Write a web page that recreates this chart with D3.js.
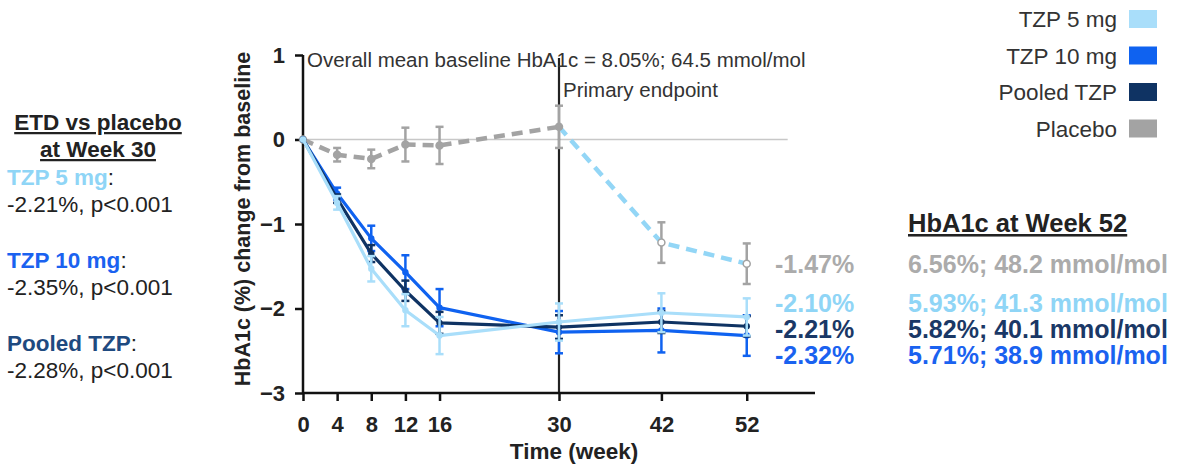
<!DOCTYPE html>
<html>
<head>
<meta charset="utf-8">
<script src="https://cdn.jsdelivr.net/npm/d3@7"></script>
<style>
  body { margin: 0; background: #fff; }
  svg { font-family: "Liberation Sans", Arial, sans-serif; }
</style>
</head>
<body>
<svg id="chart" width="1186" height="466"></svg>
<script>
// values
var weeks = [0, 4, 8, 12, 16, 30, 42, 52];
var xTicks = [0, 4, 8, 12, 16, 30, 42, 52];
var yTicks = [1, 0, -1, -2, -3];

var tzp5 = [0, -0.75, -1.53, -2.02, -2.32, -2.16, -2.05, -2.10];
var tzp5Err = [0, 0.08, 0.15, 0.19, 0.22, 0.22, 0.23, 0.22];
var tzp10 = [0, -0.64, -1.17, -1.57, -1.99, -2.28, -2.26, -2.32];
var tzp10Err = [0, 0.07, 0.15, 0.2, 0.22, 0.25, 0.26, 0.24];
var pooled = [0, -0.70, -1.35, -1.79, -2.17, -2.22, -2.16, -2.21];
var pooledErr = [0, 0.05, 0.1, 0.12, 0.13, 0.14, 0.13, 0.12];
var placebo = [0, -0.18, -0.23, -0.06, -0.07, 0.15, -1.22, -1.47];
var placeboErr = [0, 0.08, 0.11, 0.2, 0.22, 0.25, 0.24, 0.24];

var legendNames = ["TZP 5 mg", "TZP 10 mg", "Pooled TZP", "Placebo"];
var legendColors = ["#a9defa", "#0f62f0", "#0f3363", "#a3a3a3"];

var endLabels = ["-1.47%", "-2.10%", "-2.21%", "-2.32%"];
var week52Labels = ["6.56%; 48.2 mmol/mol", "5.93%; 41.3 mmol/mol", "5.82%; 40.1 mmol/mol", "5.71%; 38.9 mmol/mol"];
var endColors = ["#ababab", "#8fd5f6", "#1a3866", "#1a62f0"];

var etdNames = ["TZP 5 mg", "TZP 10 mg", "Pooled TZP"];
var etdValues = ["-2.21%, p<0.001", "-2.35%, p<0.001", "-2.28%, p<0.001"];
var etdColors = ["#8fd5f6", "#1a62f0", "#1f4a80"];

var svg = d3.select("#chart");

var x = d3.scaleLinear().domain([0, 60]).range([303, 815]);
var y = d3.scaleLinear().domain([-3, 1]).range([393, 55]);

var g = svg.append("g");

// zero reference line
g.append("line")
    .attr("x1", x(0)).attr("x2", x(56.8))
    .attr("y1", y(0)).attr("y2", y(0))
    .attr("stroke", "#c8c8c8").attr("stroke-width", 1.5);

// primary endpoint line
g.append("line")
    .attr("x1", x(30)).attr("x2", x(30))
    .attr("y1", 58).attr("y2", y(-3))
    .attr("stroke", "#222").attr("stroke-width", 2.2);

// axes
var xAxis = g.append("g")
    .attr("transform", "translate(0," + y(-3) + ")")
    .call(d3.axisBottom(x).tickValues(xTicks).tickSize(8).tickPadding(15));
var yAxis = g.append("g")
    .attr("transform", "translate(" + x(0) + ",0)")
    .call(d3.axisLeft(y).tickValues(yTicks).tickSize(8).tickPadding(10).tickFormat(d3.format("d")));

[xAxis, yAxis].forEach(function(a) {
  a.select(".domain").attr("stroke", "#111").attr("stroke-width", 2.5);
  a.selectAll(".tick line").attr("stroke", "#111").attr("stroke-width", 2.5);
  a.selectAll(".tick text")
      .attr("fill", "#222")
      .style("font-size", "22px")
      .style("font-weight", "bold")
      .style("font-family", "Liberation Sans, Arial, sans-serif");
});
// the x domain in reference extends to x=815 without end tick
xAxis.select(".domain").attr("d", "M" + x(0) + ",0H" + x(60));
yAxis.select(".domain").attr("d", "M0," + y(1) + "V" + y(-3));

svg.append("text")
    .attr("x", 574).attr("y", 459)
    .attr("text-anchor", "middle")
    .attr("fill", "#222")
    .style("font-size", "22.5px").style("font-weight", "bold")
    .text("Time (week)");

svg.append("text")
    .attr("transform", "translate(250,219) rotate(-90)")
    .attr("text-anchor", "middle")
    .attr("fill", "#222")
    .style("font-size", "21.5px").style("font-weight", "bold")
    .text("HbA1c (%) change from baseline");

svg.append("text")
    .attr("x", 307).attr("y", 67)
    .attr("fill", "#333")
    .style("font-size", "20.5px")
    .text("Overall mean baseline HbA1c = 8.05%; 64.5 mmol/mol");

svg.append("text")
    .attr("x", 563).attr("y", 97)
    .attr("fill", "#333")
    .style("font-size", "20.5px")
    .text("Primary endpoint");

// series
function rows(vals, errs) {
  return weeks.map(function(w, i) { return { w: w, v: vals[i], e: errs[i] }; });
}

var line = d3.line().x(function(d) { return x(d.w); }).y(function(d) { return y(d.v); });

function errorBars(data, color) {
  var eb = g.append("g");
  data.filter(function(d) { return d.e > 0; }).forEach(function(d) {
    eb.append("line")
        .attr("x1", x(d.w)).attr("x2", x(d.w))
        .attr("y1", y(d.v - d.e)).attr("y2", y(d.v + d.e))
        .attr("stroke", color).attr("stroke-width", 2.5);
    [d.v - d.e, d.v + d.e].forEach(function(v) {
      eb.append("line")
          .attr("x1", x(d.w) - 4).attr("x2", x(d.w) + 4)
          .attr("y1", y(v)).attr("y2", y(v))
          .attr("stroke", color).attr("stroke-width", 2.5);
    });
  });
}

function drawSeries(vals, errs, color) {
  var data = rows(vals, errs);
  errorBars(data, color);
  g.append("path").datum(data)
      .attr("fill", "none").attr("stroke", color)
      .attr("stroke-width", 3.2).attr("stroke-linejoin", "round")
      .attr("d", line);
  g.selectAll(null).data(data).enter().append("circle")
      .attr("cx", function(d) { return x(d.w); })
      .attr("cy", function(d) { return y(d.v); })
      .attr("r", 3.2).attr("fill", color);
}

// placebo: gray dashed to week 30, then light blue dashed
var pData = rows(placebo, placeboErr);
errorBars(pData, legendColors[3]);
g.append("path").datum(pData.filter(function(d) { return d.w <= 30; }))
    .attr("fill", "none").attr("stroke", legendColors[3])
    .attr("stroke-width", 4.5).attr("stroke-dasharray", "11,7")
    .attr("d", line);
g.append("path").datum(pData.filter(function(d) { return d.w >= 30; }))
    .attr("fill", "none").attr("stroke", "#93d6f6")
    .attr("stroke-width", 4.5).attr("stroke-dasharray", "11,7")
    .attr("d", line);
g.selectAll(null).data(pData).enter().append("circle")
    .attr("cx", function(d) { return x(d.w); })
    .attr("cy", function(d) { return y(d.v); })
    .attr("r", 3.5)
    .attr("fill", function(d) { return d.w > 30 ? "#fff" : legendColors[3]; })
    .attr("stroke", legendColors[3]).attr("stroke-width", 1.5);

drawSeries(tzp10, tzp10Err, legendColors[1]);
drawSeries(pooled, pooledErr, legendColors[2]);
drawSeries(tzp5, tzp5Err, legendColors[0]);

// legend
var leg = svg.append("g");
legendNames.forEach(function(name, i) {
  var cy = 19 + i * 36.5;
  leg.append("text")
      .attr("x", 1117).attr("y", cy + 8)
      .attr("text-anchor", "end").attr("fill", "#333")
      .style("font-size", "22.5px")
      .text(name);
  leg.append("rect")
      .attr("x", 1129).attr("y", cy - 9)
      .attr("width", 28).attr("height", 18)
      .attr("fill", legendColors[i]);
});

// left ETD block
var left = svg.append("g");
["ETD vs placebo", "at Week 30"].forEach(function(t, i) {
  left.append("text")
      .attr("x", 98).attr("y", 130 + i * 27)
      .attr("text-anchor", "middle").attr("fill", "#222")
      .style("font-size", "22.5px").style("font-weight", "bold")
      .style("text-decoration", "underline")
      .text(t);
});
etdNames.forEach(function(name, i) {
  var by = 185 + i * 83;
  var t = left.append("text").attr("x", 7).attr("y", by).style("font-size", "22.5px");
  t.append("tspan").attr("fill", etdColors[i]).style("font-weight", "bold").text(name);
  t.append("tspan").attr("fill", "#222").text(":");
  left.append("text")
      .attr("x", 7).attr("y", by + 27)
      .attr("fill", "#222").style("font-size", "22.5px")
      .text(etdValues[i]);
});

// right week-52 block
var right = svg.append("g");
right.append("text")
    .attr("x", 908).attr("y", 232)
    .attr("fill", "#222")
    .style("font-size", "25.5px").style("font-weight", "bold")
    .style("text-decoration", "underline")
    .text("HbA1c at Week 52");
var rightY = [273, 312, 338, 364];
endLabels.forEach(function(t, i) {
  right.append("text")
      .attr("x", 775).attr("y", rightY[i])
      .attr("fill", endColors[i])
      .style("font-size", "25px").style("font-weight", "bold")
      .text(t);
  right.append("text")
      .attr("x", 908).attr("y", rightY[i])
      .attr("fill", endColors[i])
      .style("font-size", "25px").style("font-weight", "bold")
      .text(week52Labels[i]);
});
</script>
</body>
</html>
